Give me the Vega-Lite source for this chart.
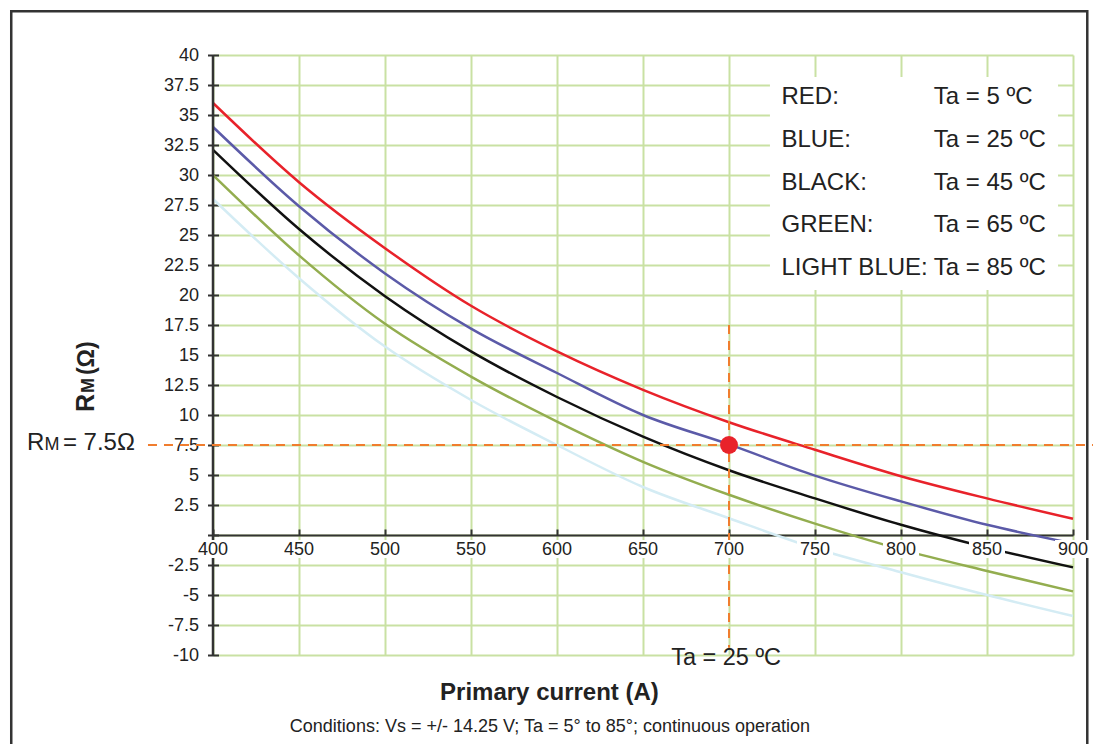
{
  "$schema": "https://vega.github.io/schema/vega-lite/v6.json",
  "width": 860,
  "height": 600,
  "autosize": {"type": "none"},
  "padding": {"left": 213, "top": 55, "right": 20, "bottom": 89},
  "background": "white",
  "config": {
    "view": {"stroke": null},
    "font": "Liberation Sans",
    "text": {"font": "Liberation Sans", "color": "#222222"},
    "axis": {"grid": true, "gridColor": "#c9e1a3", "gridWidth": 2, "tickColor": "#333333", "tickWidth": 2, "labelFont": "Liberation Sans", "labelFontSize": 18, "labelColor": "#222222", "labelFlush": false, "labelOverlap": false, "labelBound": false},
    "axisX": {"domainColor": "#333333", "domainWidth": 2, "tickSize": -6, "offset": -120, "labels": false},
    "axisY": {"domain": false, "tickSize": 11, "offset": -5.5, "labelPadding": 9, "labelExpr": "datum.value == 0 ? '' : '' + datum.value"}
  },
  "datasets": {
    "curves": [
      {"I": 400, "R": 36.0, "s": "RED"}, {"I": 450, "R": 29.4, "s": "RED"}, {"I": 500, "R": 23.9, "s": "RED"}, {"I": 550, "R": 19.1, "s": "RED"}, {"I": 600, "R": 15.3, "s": "RED"}, {"I": 650, "R": 12.1, "s": "RED"}, {"I": 700, "R": 9.4, "s": "RED"}, {"I": 750, "R": 7.1, "s": "RED"}, {"I": 800, "R": 4.9, "s": "RED"}, {"I": 850, "R": 3.05, "s": "RED"}, {"I": 900, "R": 1.35, "s": "RED"},
      {"I": 400, "R": 34.0, "s": "BLUE"}, {"I": 450, "R": 27.4, "s": "BLUE"}, {"I": 500, "R": 21.8, "s": "BLUE"}, {"I": 550, "R": 17.2, "s": "BLUE"}, {"I": 600, "R": 13.5, "s": "BLUE"}, {"I": 650, "R": 10.0, "s": "BLUE"}, {"I": 700, "R": 7.55, "s": "BLUE"}, {"I": 750, "R": 4.95, "s": "BLUE"}, {"I": 800, "R": 2.8, "s": "BLUE"}, {"I": 850, "R": 0.85, "s": "BLUE"}, {"I": 900, "R": -0.7, "s": "BLUE"},
      {"I": 400, "R": 32.1, "s": "BLACK"}, {"I": 450, "R": 25.5, "s": "BLACK"}, {"I": 500, "R": 19.9, "s": "BLACK"}, {"I": 550, "R": 15.3, "s": "BLACK"}, {"I": 600, "R": 11.5, "s": "BLACK"}, {"I": 650, "R": 8.2, "s": "BLACK"}, {"I": 700, "R": 5.4, "s": "BLACK"}, {"I": 750, "R": 3.05, "s": "BLACK"}, {"I": 800, "R": 0.85, "s": "BLACK"}, {"I": 850, "R": -1.05, "s": "BLACK"}, {"I": 900, "R": -2.7, "s": "BLACK"},
      {"I": 400, "R": 30.0, "s": "GREEN"}, {"I": 450, "R": 23.3, "s": "GREEN"}, {"I": 500, "R": 17.6, "s": "GREEN"}, {"I": 550, "R": 13.2, "s": "GREEN"}, {"I": 600, "R": 9.45, "s": "GREEN"}, {"I": 650, "R": 6.1, "s": "GREEN"}, {"I": 700, "R": 3.35, "s": "GREEN"}, {"I": 750, "R": 0.95, "s": "GREEN"}, {"I": 800, "R": -1.2, "s": "GREEN"}, {"I": 850, "R": -3.0, "s": "GREEN"}, {"I": 900, "R": -4.7, "s": "GREEN"},
      {"I": 400, "R": 28.0, "s": "LIGHT BLUE"}, {"I": 450, "R": 21.4, "s": "LIGHT BLUE"}, {"I": 500, "R": 15.7, "s": "LIGHT BLUE"}, {"I": 550, "R": 11.25, "s": "LIGHT BLUE"}, {"I": 600, "R": 7.5, "s": "LIGHT BLUE"}, {"I": 650, "R": 4.0, "s": "LIGHT BLUE"}, {"I": 700, "R": 1.4, "s": "LIGHT BLUE"}, {"I": 750, "R": -1.1, "s": "LIGHT BLUE"}, {"I": 800, "R": -3.1, "s": "LIGHT BLUE"}, {"I": 850, "R": -5.0, "s": "LIGHT BLUE"}, {"I": 900, "R": -6.75, "s": "LIGHT BLUE"}
    ],
    "xt": [{"t": 400}, {"t": 450}, {"t": 500}, {"t": 550}, {"t": 600}, {"t": 650}, {"t": 700}, {"t": 750}, {"t": 800}, {"t": 850}, {"t": 900}],
    "legend": [
      {"name": "RED:", "ta": "Ta = 5 ºC"},
      {"name": "BLUE:", "ta": "Ta = 25 ºC"},
      {"name": "BLACK:", "ta": "Ta = 45 ºC"},
      {"name": "GREEN:", "ta": "Ta = 65 ºC"},
      {"name": "LIGHT BLUE:", "ta": "Ta = 85 ºC"}
    ]
  },
  "resolve": {"scale": {"y": "independent"}},
  "layer": [
    {
      "data": {"values": [{}]},
      "layer": [
        {
          "mark": {"type": "rect", "fillOpacity": 0, "stroke": "#333333", "strokeWidth": 2.5},
          "encoding": {
            "x": {"datum": 282.7, "axis": {"values": [400, 450, 500, 550, 600, 650, 700, 750, 800, 850, 900]}}, "x2": {"datum": 908.3},
            "y": {"datum": 43.65, "axis": {"values": [-10, -7.5, -5, -2.5, 0, 2.5, 5, 7.5, 10, 12.5, 15, 17.5, 20, 22.5, 25, 27.5, 30, 32.5, 35, 37.5, 40]}}, "y2": {"datum": -18}
          }
        },
        {
          "mark": {"type": "rect", "fill": "white"},
          "encoding": {
            "x": {"datum": 723.8, "axis": {"values": [400, 450, 500, 550, 600, 650, 700, 750, 800, 850, 900]}}, "x2": {"datum": 891.3},
            "y": {"datum": 38.17, "axis": {"values": [-10, -7.5, -5, -2.5, 0, 2.5, 5, 7.5, 10, 12.5, 15, 17.5, 20, 22.5, 25, 27.5, 30, 32.5, 35, 37.5, 40]}}, "y2": {"datum": 20.42}
          }
        },
        {
          "data": {"name": "curves"},
          "mark": {"type": "line", "interpolate": "monotone", "strokeWidth": 2.5},
          "encoding": {
            "x": {
              "field": "I", "type": "quantitative",
              "scale": {"domain": [400, 900], "nice": false, "zero": false},
              "axis": {
                "values": [400, 450, 500, 550, 600, 650, 700, 750, 800, 850, 900],
                "title": null, "grid": true, "gridColor": "#c9e1a3", "gridWidth": 2,
                "domainColor": "#333333", "domainWidth": 2,
                "tickColor": "#333333", "tickWidth": 2, "tickSize": -6,
                "offset": -120, "labels": false
              }
            },
            "y": {
              "field": "R", "type": "quantitative",
              "scale": {"domain": [-10, 40], "nice": false, "zero": false},
              "axis": {
                "values": [-10, -7.5, -5, -2.5, 0, 2.5, 5, 7.5, 10, 12.5, 15, 17.5, 20, 22.5, 25, 27.5, 30, 32.5, 35, 37.5, 40],
                "title": null, "grid": true, "gridColor": "#c9e1a3", "gridWidth": 2,
                "domain": false,
                "tickColor": "#333333", "tickWidth": 2, "tickSize": 11,
                "offset": -5.5,
                "labelFontSize": 18, "labelColor": "#222222", "labelPadding": 9,
                "labelFlush": false, "labelOverlap": false, "labelBound": false,
                "labelExpr": "datum.value == 0 ? '' : '' + datum.value", "labelFont": "Liberation Sans"
              }
            },
            "color": {
              "field": "s", "type": "nominal",
              "scale": {"domain": ["RED", "BLUE", "BLACK", "GREEN", "LIGHT BLUE"], "range": ["#e8222a", "#5b5aa8", "#111111", "#93ad4f", "#d4ecf4"]},
              "legend": null
            }
          }
        },
        {
          "mark": {"type": "rule", "color": "#333333", "strokeWidth": 2.5},
          "encoding": {
            "x": {"datum": 400, "axis": {"values": [400, 450, 500, 550, 600, 650, 700, 750, 800, 850, 900]}},
            "y": {"datum": -10, "axis": {"values": [-10, -7.5, -5, -2.5, 0, 2.5, 5, 7.5, 10, 12.5, 15, 17.5, 20, 22.5, 25, 27.5, 30, 32.5, 35, 37.5, 40]}}, "y2": {"datum": 40}
          }
        },
        {
          "mark": {"type": "rule", "color": "#f07d2e", "strokeWidth": 2, "strokeDash": [9, 7]},
          "encoding": {
            "x": {"datum": 362.2, "axis": {"values": [400, 450, 500, 550, 600, 650, 700, 750, 800, 850, 900]}}, "x2": {"datum": 911.6},
            "y": {"datum": 7.5, "axis": {"values": [-10, -7.5, -5, -2.5, 0, 2.5, 5, 7.5, 10, 12.5, 15, 17.5, 20, 22.5, 25, 27.5, 30, 32.5, 35, 37.5, 40]}}
          }
        },
        {
          "mark": {"type": "rule", "color": "#f07d2e", "strokeWidth": 2, "strokeDash": [9, 7]},
          "encoding": {
            "x": {"datum": 700, "axis": {"values": [400, 450, 500, 550, 600, 650, 700, 750, 800, 850, 900]}},
            "y": {"datum": 17.5, "axis": {"values": [-10, -7.5, -5, -2.5, 0, 2.5, 5, 7.5, 10, 12.5, 15, 17.5, 20, 22.5, 25, 27.5, 30, 32.5, 35, 37.5, 40]}}, "y2": {"datum": -9.4}
          }
        },
        {
          "mark": {"type": "circle", "color": "#e8232a", "size": 320, "opacity": 1},
          "encoding": {
            "x": {"datum": 700, "axis": {"values": [400, 450, 500, 550, 600, 650, 700, 750, 800, 850, 900]}},
            "y": {"datum": 7.5, "axis": {"values": [-10, -7.5, -5, -2.5, 0, 2.5, 5, 7.5, 10, 12.5, 15, 17.5, 20, 22.5, 25, 27.5, 30, 32.5, 35, 37.5, 40]}}
          }
        },
        {
          "data": {"name": "xt"},
          "mark": {"type": "point", "shape": "M-1,-0.5H1V0.5H-1Z", "size": 1296, "filled": true, "fill": "white", "strokeWidth": 0, "opacity": 1},
          "encoding": {
            "x": {"field": "t", "type": "quantitative", "axis": {"values": [400, 450, 500, 550, 600, 650, 700, 750, 800, 850, 900]}},
            "y": {"datum": -1.17, "axis": {"values": [-10, -7.5, -5, -2.5, 0, 2.5, 5, 7.5, 10, 12.5, 15, 17.5, 20, 22.5, 25, 27.5, 30, 32.5, 35, 37.5, 40]}}
          }
        },
        {
          "data": {"name": "xt"},
          "mark": {"type": "text", "fontSize": 18, "align": "center", "baseline": "top", "dy": 6},
          "encoding": {
            "x": {"field": "t", "type": "quantitative", "axis": {"values": [400, 450, 500, 550, 600, 650, 700, 750, 800, 850, 900]}},
            "y": {"datum": 0, "axis": {"values": [-10, -7.5, -5, -2.5, 0, 2.5, 5, 7.5, 10, 12.5, 15, 17.5, 20, 22.5, 25, 27.5, 30, 32.5, 35, 37.5, 40]}},
            "text": {"field": "t", "type": "nominal"}
          }
        },
        {
          "mark": {"type": "text", "text": "R", "fontSize": 24, "align": "right", "baseline": "alphabetic"},
          "encoding": {
            "x": {"datum": 302.0, "axis": {"values": [400, 450, 500, 550, 600, 650, 700, 750, 800, 850, 900]}},
            "y": {"datum": 7.083, "axis": {"values": [-10, -7.5, -5, -2.5, 0, 2.5, 5, 7.5, 10, 12.5, 15, 17.5, 20, 22.5, 25, 27.5, 30, 32.5, 35, 37.5, 40]}}
          }
        },
        {
          "mark": {"type": "text", "text": "M", "fontSize": 18, "align": "right", "baseline": "alphabetic"},
          "encoding": {
            "x": {"datum": 310.8, "axis": {"values": [400, 450, 500, 550, 600, 650, 700, 750, 800, 850, 900]}},
            "y": {"datum": 7.083, "axis": {"values": [-10, -7.5, -5, -2.5, 0, 2.5, 5, 7.5, 10, 12.5, 15, 17.5, 20, 22.5, 25, 27.5, 30, 32.5, 35, 37.5, 40]}}
          }
        },
        {
          "mark": {"type": "text", "text": "= 7.5Ω", "fontSize": 24, "align": "right", "baseline": "alphabetic"},
          "encoding": {
            "x": {"datum": 354.6, "axis": {"values": [400, 450, 500, 550, 600, 650, 700, 750, 800, 850, 900]}},
            "y": {"datum": 7.083, "axis": {"values": [-10, -7.5, -5, -2.5, 0, 2.5, 5, 7.5, 10, 12.5, 15, 17.5, 20, 22.5, 25, 27.5, 30, 32.5, 35, 37.5, 40]}}
          }
        },
        {
          "mark": {"type": "text", "text": "Ta = 25 ºC", "fontSize": 23.5, "align": "center", "baseline": "middle"},
          "encoding": {
            "x": {"datum": 698.3, "axis": {"values": [400, 450, 500, 550, 600, 650, 700, 750, 800, 850, 900]}},
            "y": {"datum": -10.28, "axis": {"values": [-10, -7.5, -5, -2.5, 0, 2.5, 5, 7.5, 10, 12.5, 15, 17.5, 20, 22.5, 25, 27.5, 30, 32.5, 35, 37.5, 40]}}
          }
        },
        {
          "mark": {"type": "text", "text": "R", "fontSize": 25, "fontWeight": "bold", "angle": 270, "align": "left", "baseline": "alphabetic"},
          "encoding": {
            "x": {"datum": 331.0, "axis": {"values": [400, 450, 500, 550, 600, 650, 700, 750, 800, 850, 900]}},
            "y": {"datum": 10.25, "axis": {"values": [-10, -7.5, -5, -2.5, 0, 2.5, 5, 7.5, 10, 12.5, 15, 17.5, 20, 22.5, 25, 27.5, 30, 32.5, 35, 37.5, 40]}}
          }
        },
        {
          "mark": {"type": "text", "text": "M", "fontSize": 18, "fontWeight": "bold", "angle": 270, "align": "left", "baseline": "alphabetic"},
          "encoding": {
            "x": {"datum": 331.0, "axis": {"values": [400, 450, 500, 550, 600, 650, 700, 750, 800, 850, 900]}},
            "y": {"datum": 11.83, "axis": {"values": [-10, -7.5, -5, -2.5, 0, 2.5, 5, 7.5, 10, 12.5, 15, 17.5, 20, 22.5, 25, 27.5, 30, 32.5, 35, 37.5, 40]}}
          }
        },
        {
          "mark": {"type": "text", "text": "(Ω)", "fontSize": 23, "fontWeight": "bold", "angle": 270, "align": "left", "baseline": "alphabetic"},
          "encoding": {
            "x": {"datum": 331.0, "axis": {"values": [400, 450, 500, 550, 600, 650, 700, 750, 800, 850, 900]}},
            "y": {"datum": 13.33, "axis": {"values": [-10, -7.5, -5, -2.5, 0, 2.5, 5, 7.5, 10, 12.5, 15, 17.5, 20, 22.5, 25, 27.5, 30, 32.5, 35, 37.5, 40]}}
          }
        },
        {
          "mark": {"type": "text", "text": "Primary current (A)", "fontSize": 24, "fontWeight": "bold", "align": "center", "baseline": "middle"},
          "encoding": {
            "x": {"datum": 595.6, "axis": {"values": [400, 450, 500, 550, 600, 650, 700, 750, 800, 850, 900]}},
            "y": {"datum": -13.17, "axis": {"values": [-10, -7.5, -5, -2.5, 0, 2.5, 5, 7.5, 10, 12.5, 15, 17.5, 20, 22.5, 25, 27.5, 30, 32.5, 35, 37.5, 40]}}
          }
        },
        {
          "mark": {"type": "text", "text": "Conditions: Vs = +/- 14.25 V; Ta = 5° to 85°; continuous operation", "fontSize": 18, "align": "center", "baseline": "middle"},
          "encoding": {
            "x": {"datum": 595.9, "axis": {"values": [400, 450, 500, 550, 600, 650, 700, 750, 800, 850, 900]}},
            "y": {"datum": -16.0, "axis": {"values": [-10, -7.5, -5, -2.5, 0, 2.5, 5, 7.5, 10, 12.5, 15, 17.5, 20, 22.5, 25, 27.5, 30, 32.5, 35, 37.5, 40]}}
          }
        }
      ]
    },
    {
      "data": {"name": "legend"},
      "encoding": {
        "y": {"field": "name", "type": "nominal", "sort": null, "scale": {"type": "point", "range": [41.7, 213.3], "padding": 0}, "axis": null}
      },
      "layer": [
        {
          "mark": {"type": "text", "fontSize": 24, "align": "left", "baseline": "middle"},
          "encoding": {"x": {"datum": 730.5, "axis": {"values": [400, 450, 500, 550, 600, 650, 700, 750, 800, 850, 900]}}, "text": {"field": "name"}}
        },
        {
          "mark": {"type": "text", "fontSize": 24, "align": "left", "baseline": "middle"},
          "encoding": {"x": {"datum": 819.0, "axis": {"values": [400, 450, 500, 550, 600, 650, 700, 750, 800, 850, 900]}}, "text": {"field": "ta"}}
        }
      ]
    }
  ]
}
